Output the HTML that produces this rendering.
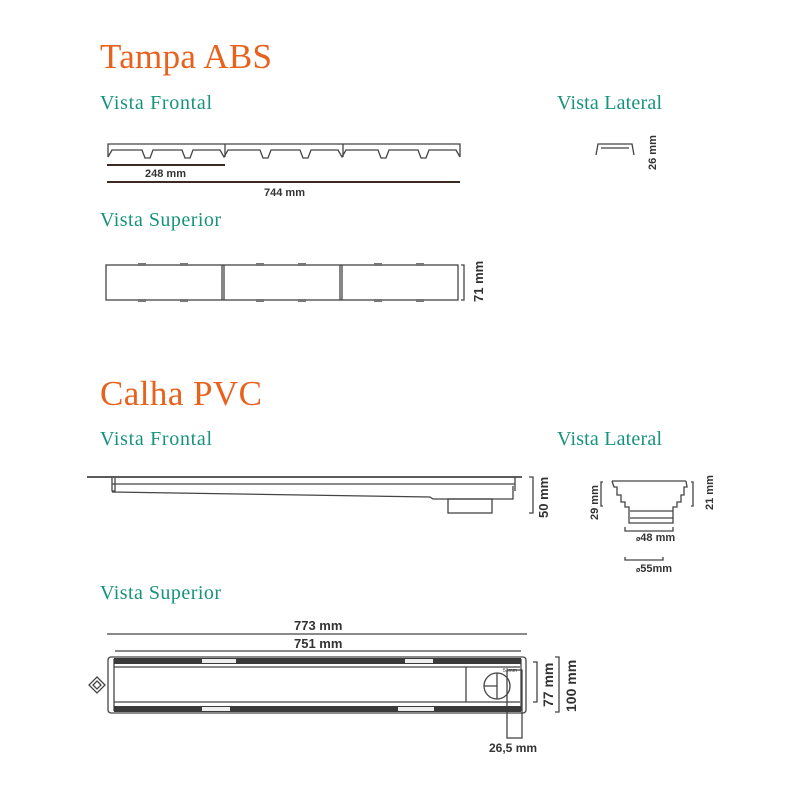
<!DOCTYPE html>
<html><head><meta charset="utf-8"><style>
body{margin:0;background:#fff;}
svg{display:block;font-family:"Liberation Sans",sans-serif;}
.h{fill:#e8611d;font-family:"Liberation Serif",serif;font-size:35px;}
.s{fill:#17937d;font-family:"Liberation Serif",serif;font-size:20px;}
.t{fill:#333;font-size:11px;font-weight:bold;}
.l{stroke:#444;fill:none;stroke-width:1.3;}
</style></head><body>
<svg width="800" height="800" viewBox="0 0 800 800">
<text class="h" x="100" y="68" textLength="172">Tampa ABS</text>
<text class="s" x="100" y="109" textLength="112">Vista Frontal</text>
<text class="s" x="557" y="109" textLength="105">Vista Lateral</text>
<text class="s" x="100" y="226" textLength="121">Vista Superior</text>
<text class="h" x="100" y="405" textLength="162">Calha PVC</text>
<text class="s" x="100" y="445" textLength="112">Vista Frontal</text>
<text class="s" x="557" y="445" textLength="105">Vista Lateral</text>
<text class="s" x="100" y="599" textLength="121">Vista Superior</text>

<!-- Tampa frontal -->
<g class="l">
<path d="M108,157 V144 H460 V157"/>
<path d="M108,157 L112,150 H142 L145,158 H150 L153,150 H182 L185,158 H190 L193,150 H220 L224,157 L228,150 H260 L263,158 H268 L271,150 H300 L303,158 H308 L311,150 H338 L342,157 L346,150 H378 L381,158 H386 L389,150 H418 L421,158 H426 L429,150 H456 L460,157"/>
<path d="M225,144 V157 M343,144 V157"/>
</g>
<line x1="107" y1="165" x2="225" y2="165" stroke="#3a2a22" stroke-width="2"/>
<text class="t" x="145" y="177">248 mm</text>
<line x1="107" y1="182" x2="460" y2="182" stroke="#3a2a22" stroke-width="2"/>
<text class="t" x="264" y="196">744 mm</text>
<!-- tampa lateral -->
<path class="l" d="M596,155 L598,144 H632 L634,155 M601,148 H629"/>
<text class="t" transform="translate(656,170) rotate(-90)">26 mm</text>
<!-- tampa superior -->
<g class="l">
<rect x="106" y="265" width="352" height="35"/>
<path d="M222,265 V300 M224,265 V300 M340,265 V300 M342,265 V300"/>
<path d="M461,265 H464 V300 H461"/>
</g>
<g fill="#777">
<rect x="138" y="263" width="8" height="3"/><rect x="180" y="263" width="8" height="3"/><rect x="256" y="263" width="8" height="3"/><rect x="298" y="263" width="8" height="3"/><rect x="374" y="263" width="8" height="3"/><rect x="416" y="263" width="8" height="3"/>
<rect x="138" y="299" width="8" height="3"/><rect x="180" y="299" width="8" height="3"/><rect x="256" y="299" width="8" height="3"/><rect x="298" y="299" width="8" height="3"/><rect x="374" y="299" width="8" height="3"/><rect x="416" y="299" width="8" height="3"/>
</g>
<text class="t" style="font-size:13px" transform="translate(483,302) rotate(-90)">71 mm</text>

<!-- Calha frontal -->
<g class="l">
<line x1="87" y1="477" x2="522" y2="477" stroke-width="1.8"/>
<path d="M112,477 V491 H115 V478 M112,484 H515 M515,477 V491 M112,492 L430,497 L433,499 H513 V486"/>
<rect x="448" y="499" width="44" height="14"/>
<path d="M529,477 H533 V513 H529"/>
</g>
<text class="t" style="font-size:13px" transform="translate(548,518) rotate(-90)">50 mm</text>

<!-- Calha lateral -->
<g class="l">
<path d="M612,481 H686 M612,481 L614,487 H617 V495 H621 V502 H625 V507 H629 V523 H673 V507 H677 V502 H681 V495 H684 V487 H687 L686,481"/>
<path d="M630,511 H673 M630,518 H673"/>
<path d="M603,482 H601 V506 H603 M691,482 H693 V506 H691"/>
<path d="M625,527 V531 H673 V527 M625,557 V560 H663 V557"/>
</g>
<text class="t" transform="translate(598,520) rotate(-90)">29 mm</text>
<text class="t" transform="translate(713,510) rotate(-90)">21 mm</text>
<text class="t" x="636" y="541"><tspan font-size="7">ø</tspan>48 mm</text>
<text class="t" x="636" y="572"><tspan font-size="7">ø</tspan>55mm</text>

<!-- Calha superior -->
<line class="l" x1="107" y1="634" x2="527" y2="634"/>
<text class="t" style="font-size:13px" x="294" y="630">773 mm</text>
<line class="l" x1="115" y1="651" x2="521" y2="651"/>
<text class="t" style="font-size:13px" x="294" y="648">751 mm</text>
<g class="l">
<rect x="108" y="657" width="418" height="56" rx="3"/>
<path d="M114,659 V711 M521,659 V711 M114,667 H520 M114,702 H520 M466,667 V702"/>
<rect x="507" y="670" width="15" height="68"/>
<circle cx="497" cy="686" r="13"/>
<path d="M497,673 V699 M484,686 H497"/>
<path d="M97,677 l8,8 -8,8 -8,-8z M97,681 l4,4 -4,4 -4,-4z"/>
</g>
<rect x="114" y="658" width="407" height="6" fill="#3a3a3a"/>
<rect x="114" y="706" width="407" height="6" fill="#3a3a3a"/>
<rect x="202" y="659" width="34" height="4" fill="#eee"/>
<rect x="405" y="659" width="28" height="4" fill="#eee"/>
<rect x="202" y="707" width="28" height="4" fill="#eee"/>
<rect x="398" y="707" width="36" height="4" fill="#eee"/>
<text x="503" y="672" font-size="5" fill="#333">51mm</text>
<path class="l" d="M533,662 H537 V702 H533 M555,657 H559 V712 H555"/>
<text class="t" style="font-size:14px" transform="translate(553,707) rotate(-90)">77 mm</text>
<text class="t" style="font-size:14px" transform="translate(576,712) rotate(-90)">100 mm</text>
<text class="t" style="font-size:12px" x="489" y="752">26,5 mm</text>
</svg>
</body></html>
